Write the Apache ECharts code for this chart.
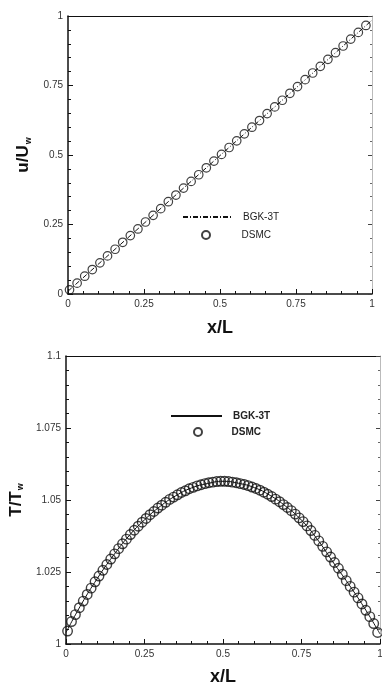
<!DOCTYPE html>
<html lang="en">
<head>
<meta charset="UTF-8">
<title>BGK-3T vs DSMC</title>
<script src="https://cdn.jsdelivr.net/npm/echarts@6/dist/echarts.min.js"></script>
<style>
  body { margin: 0; background: #fff; }
  #velocity { width: 382px; height: 340px; }
  #temperature { width: 382px; height: 345px; }
</style>
</head>
<body>
<div id="velocity"></div>
<div id="temperature"></div>
<script>
// ticks
var xTicks = [0, 0.25, 0.5, 0.75, 1];
var uTicks = [0, 0.25, 0.5, 0.75, 1];
var tTicks = [1, 1.025, 1.05, 1.075, 1.1];

// velocity profile u/Uw
var dsmcUX = [0.005, 0.03, 0.055, 0.08, 0.105, 0.13, 0.155, 0.18, 0.205, 0.23,
  0.255, 0.28, 0.305, 0.33, 0.355, 0.38, 0.405, 0.43, 0.455, 0.48,
  0.505, 0.53, 0.555, 0.58, 0.605, 0.63, 0.655, 0.68, 0.705, 0.73,
  0.755, 0.78, 0.805, 0.83, 0.855, 0.88, 0.905, 0.93, 0.955, 0.98];
var dsmcU = [0.015, 0.039, 0.064, 0.088, 0.112, 0.137, 0.161, 0.186, 0.210, 0.234,
  0.259, 0.283, 0.307, 0.332, 0.356, 0.381, 0.405, 0.429, 0.454, 0.478,
  0.502, 0.527, 0.551, 0.576, 0.600, 0.624, 0.649, 0.673, 0.697, 0.722,
  0.746, 0.771, 0.795, 0.819, 0.844, 0.868, 0.892, 0.917, 0.941, 0.966];
var bgkUX = [0, 0.25, 0.5, 0.75, 1];
var bgkU = [0.01, 0.254, 0.498, 0.741, 0.985];

// temperature profile T/Tw
var dsmcTX = [0.005, 0.0175, 0.03, 0.0425, 0.055, 0.0675, 0.08, 0.0925, 0.105, 0.1175,
  0.13, 0.1425, 0.155, 0.1675, 0.18, 0.1925, 0.205, 0.2175, 0.23, 0.2425,
  0.255, 0.2675, 0.28, 0.2925, 0.305, 0.3175, 0.33, 0.3425, 0.355, 0.3675,
  0.38, 0.3925, 0.405, 0.4175, 0.43, 0.4425, 0.455, 0.4675, 0.48, 0.4925,
  0.505, 0.5175, 0.53, 0.5425, 0.555, 0.5675, 0.58, 0.5925, 0.605, 0.6175,
  0.63, 0.6425, 0.655, 0.6675, 0.68, 0.6925, 0.705, 0.7175, 0.73, 0.7425,
  0.755, 0.7675, 0.78, 0.7925, 0.805, 0.8175, 0.83, 0.8425, 0.855, 0.8675,
  0.88, 0.8925, 0.905, 0.9175, 0.93, 0.9425, 0.955, 0.9675, 0.98, 0.9925];
var dsmcT = [1.0045, 1.0078, 1.0102, 1.0126, 1.0149, 1.0172, 1.0194, 1.0216, 1.0236, 1.0256,
  1.0276, 1.0295, 1.0313, 1.0331, 1.0348, 1.0364, 1.0380, 1.0395, 1.0409, 1.0423,
  1.0436, 1.0449, 1.0460, 1.0472, 1.0482, 1.0492, 1.0502, 1.0510, 1.0518, 1.0526,
  1.0532, 1.0539, 1.0544, 1.0549, 1.0553, 1.0557, 1.0560, 1.0562, 1.0564, 1.0565,
  1.0565, 1.0564, 1.0562, 1.0560, 1.0557, 1.0554, 1.0550, 1.0545, 1.0540, 1.0534,
  1.0527, 1.0520, 1.0512, 1.0503, 1.0494, 1.0484, 1.0474, 1.0463, 1.0451, 1.0438,
  1.0425, 1.0410, 1.0394, 1.0377, 1.0358, 1.0339, 1.0320, 1.0302, 1.0283, 1.0263,
  1.0242, 1.0220, 1.0200, 1.0180, 1.0160, 1.0139, 1.0117, 1.0095, 1.0071, 1.0040];
var bgkTX = [0, 0.05, 0.1, 0.15, 0.2, 0.25, 0.3, 0.35, 0.4, 0.45, 0.5,
  0.55, 0.6, 0.65, 0.7, 0.75, 0.8, 0.85, 0.9, 0.95, 1];
var bgkT = [1.0040, 1.0140, 1.0228, 1.0306, 1.0375, 1.0431, 1.0478, 1.0515, 1.0542, 1.0557, 1.0565,
  1.0558, 1.0543, 1.0516, 1.0478, 1.0430, 1.0364, 1.0285, 1.0208, 1.0126, 1.0035];

var ink = '#111';
var font = '"Liberation Sans", Arial, sans-serif';

function pairs(xs, ys) {
    return xs.map(function (x, i) { return [x, ys[i]]; });
}

function fmt(v) {
    return String(+v.toFixed(3));
}

// main axis with inward ticks, like the tecplot frame
function frameAxis(ticks, pos, extra) {
    var ax = {
        type: 'value',
        position: pos,
        min: ticks[0],
        max: ticks[ticks.length - 1],
        interval: ticks[1] - ticks[0],
        axisLine: { show: true, onZero: false, lineStyle: { color: ink, width: 1.5 } },
        axisTick: { inside: true, length: 5, lineStyle: { color: ink, width: 1 } },
        minorTick: { show: true, splitNumber: 5, length: 3, lineStyle: { color: ink, width: 1 } },
        axisLabel: { fontSize: 10, color: '#333', margin: 5, fontFamily: font, formatter: fmt },
        splitLine: { show: false }
    };
    return Object.assign(ax, extra || {});
}

// the opposite side of the frame, no labels
function sideAxis(ticks, pos, withTicks) {
    return {
        type: 'value',
        position: pos,
        min: ticks[0],
        max: ticks[ticks.length - 1],
        interval: ticks[1] - ticks[0],
        axisLine: { show: true, onZero: false, lineStyle: { color: withTicks ? '#bbb' : ink, width: 1 } },
        axisTick: { show: withTicks, inside: true, length: 4, lineStyle: { color: '#444' } },
        minorTick: { show: withTicks, splitNumber: 5, length: 2, lineStyle: { color: '#666' } },
        axisLabel: { show: false },
        splitLine: { show: false }
    };
}

function legendItem(item, left, top, itemWidth, pad, weight) {
    return {
        data: [item],
        left: left,
        top: top,
        padding: 0,
        itemWidth: itemWidth,
        itemHeight: 8,
        selectedMode: false,
        textStyle: { fontSize: 10, color: '#222', fontFamily: font, fontWeight: weight, padding: [0, 0, 0, pad] }
    };
}

// line legend without the marker dot
var bgkLegend = { name: 'BGK-3T', itemStyle: { opacity: 0 } };

var nameStyle = {
    fontSize: 17, fontWeight: 'bold', color: ink, fontFamily: font,
    rich: { sub: { fontSize: 9, fontWeight: 'bold', color: ink, fontFamily: font, verticalAlign: 'bottom', padding: [9, 0, 0, 1] } }
};

var velChart = echarts.init(document.getElementById('velocity'));
velChart.setOption({
    animation: false,
    grid: { left: 68, right: 10, top: 16, bottom: 46, outerBoundsMode: 'none' },
    xAxis: [
        frameAxis(xTicks, 'bottom', {
            name: 'x/L', nameLocation: 'middle', nameGap: 25,
            nameTextStyle: { fontSize: 18, fontWeight: 'bold', color: ink, fontFamily: font }
        }),
        sideAxis(xTicks, 'top', false)
    ],
    yAxis: [
        frameAxis(uTicks, 'left', {
            name: 'u/U{sub|w}', nameLocation: 'middle', nameGap: 32, nameTextStyle: nameStyle
        }),
        sideAxis(uTicks, 'right', true)
    ],
    legend: [
        legendItem(bgkLegend, 182, 212, 50, 5, 'normal'),
        legendItem('DSMC', 201, 230, 49, 6, 'normal')
    ],
    series: [
        {
            name: 'DSMC',
            type: 'scatter',
            data: pairs(dsmcUX, dsmcU),
            symbol: 'circle',
            symbolSize: 8.5,
            itemStyle: { color: 'rgba(0,0,0,0)', borderColor: ink, borderWidth: 1.2 }
        },
        {
            name: 'BGK-3T',
            type: 'line',
            data: pairs(bgkUX, bgkU),
            symbol: 'none',
            z: 3,
            itemStyle: { color: ink },
            lineStyle: { color: ink, width: 1, type: [5, 2, 1, 2] }
        }
    ]
});

var tempChart = echarts.init(document.getElementById('temperature'));
tempChart.setOption({
    animation: false,
    grid: { left: 66, right: 2, top: 16, bottom: 41, outerBoundsMode: 'none' },
    xAxis: [
        frameAxis(xTicks, 'bottom', {
            name: 'x/L', nameLocation: 'middle', nameGap: 24,
            nameTextStyle: { fontSize: 18, fontWeight: 'bold', color: ink, fontFamily: font }
        }),
        sideAxis(xTicks, 'top', false)
    ],
    yAxis: [
        frameAxis(tTicks, 'left', {
            name: 'T/T{sub|w}', nameLocation: 'middle', nameGap: 33, nameTextStyle: nameStyle
        }),
        sideAxis(tTicks, 'right', true)
    ],
    legend: [
        legendItem(bgkLegend, 170, 71, 51, 6, 'bold'),
        legendItem('DSMC', 193, 87, 49, 4, 'bold')
    ],
    series: [
        {
            name: 'DSMC',
            type: 'scatter',
            data: pairs(dsmcTX, dsmcT),
            symbol: 'circle',
            symbolSize: 9.5,
            itemStyle: { color: 'rgba(0,0,0,0)', borderColor: ink, borderWidth: 1.4 }
        },
        {
            name: 'BGK-3T',
            type: 'line',
            data: pairs(bgkTX, bgkT),
            symbol: 'none',
            smooth: true,
            z: 3,
            itemStyle: { color: ink },
            lineStyle: { color: ink, width: 1 }
        }
    ]
});
</script>
</body>
</html>
